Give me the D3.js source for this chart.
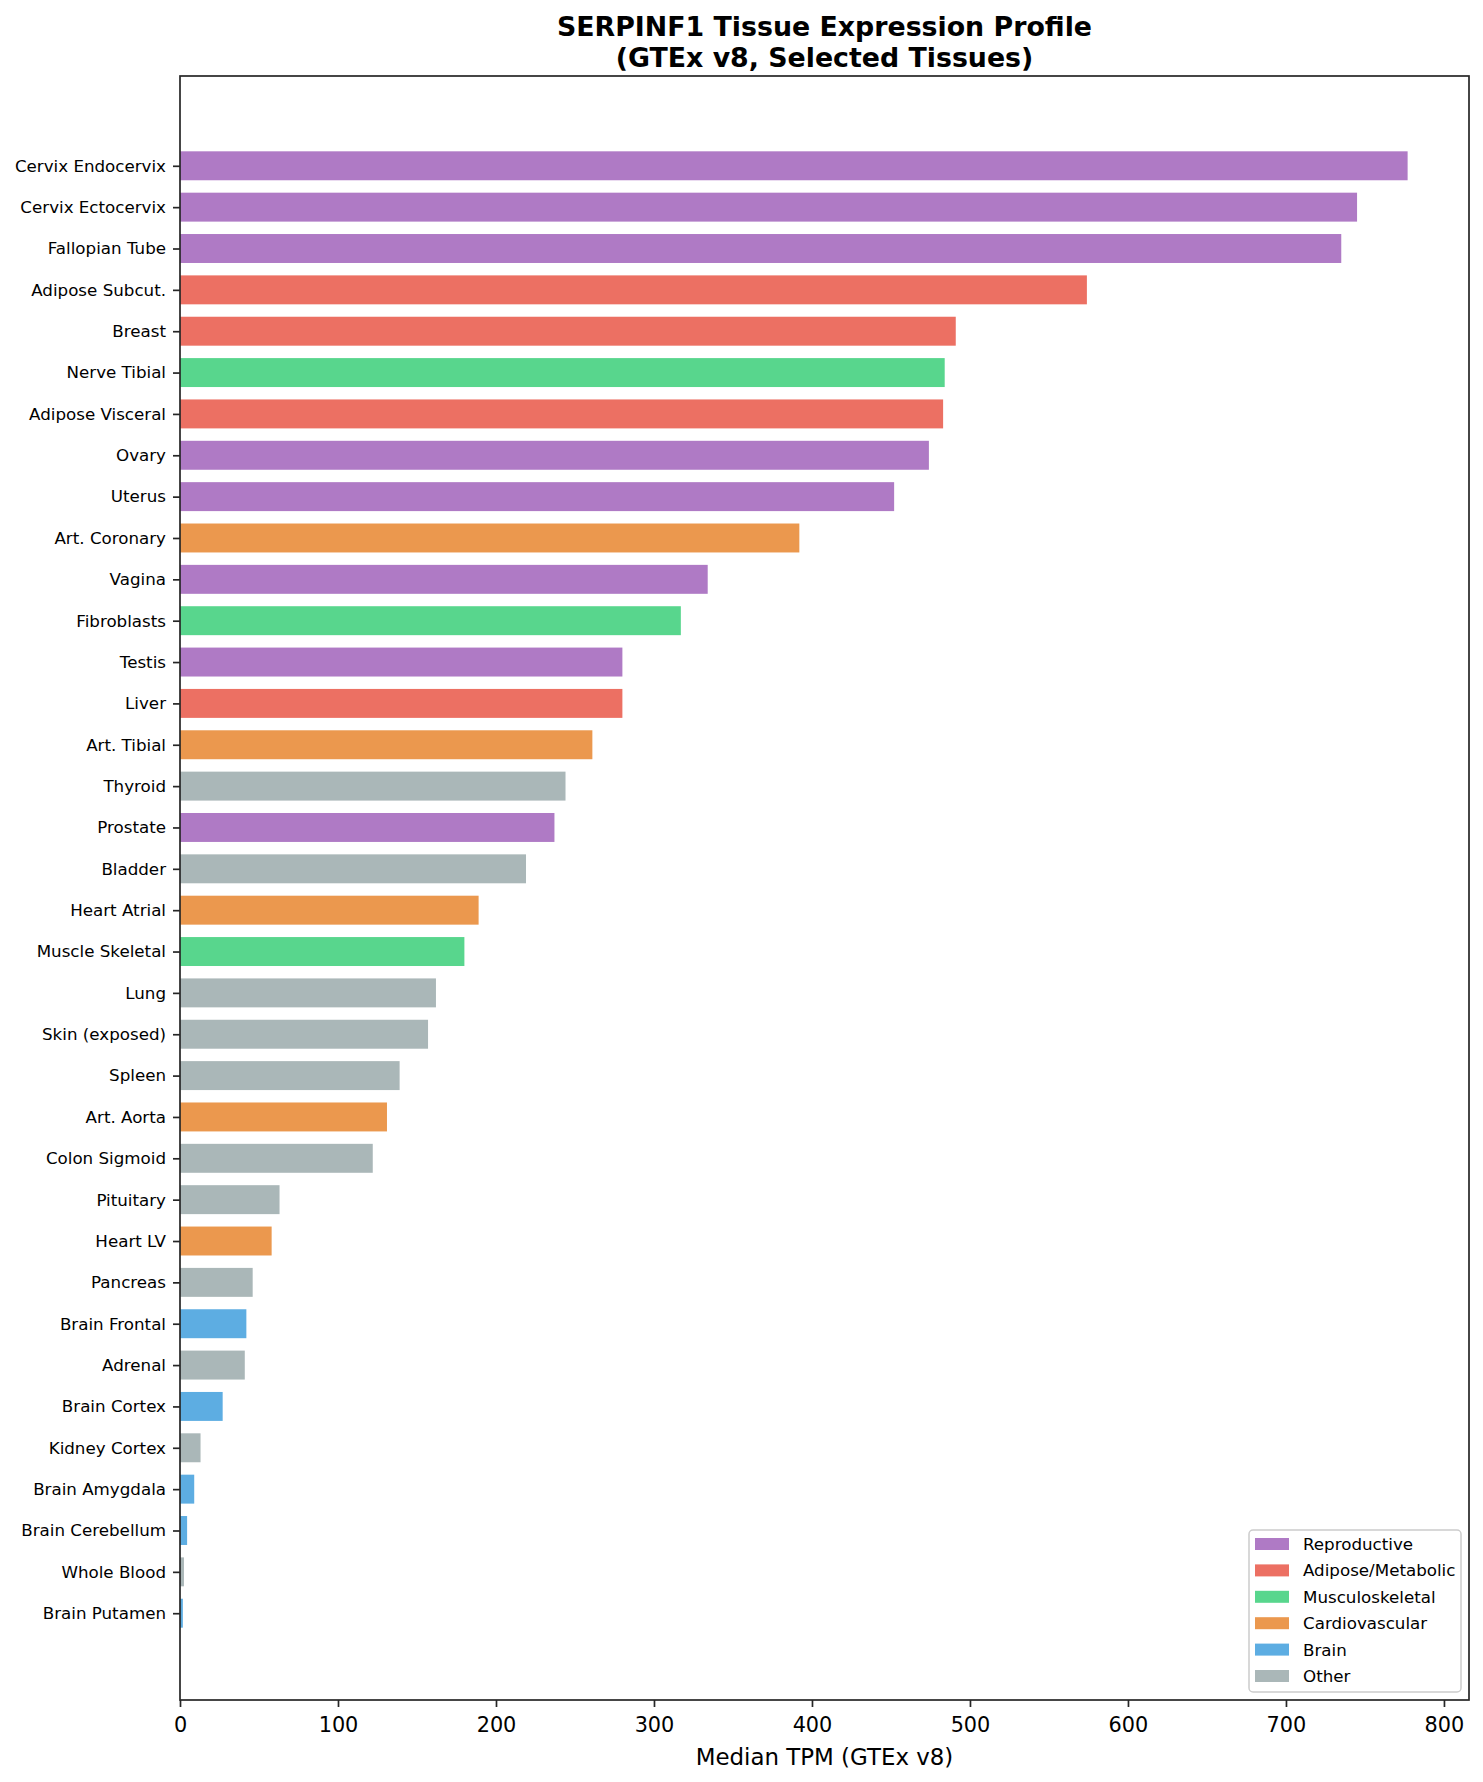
<!DOCTYPE html>
<html>
<head>
<meta charset="utf-8">
<script src="https://cdn.jsdelivr.net/npm/d3@7"></script>
<style>
  body { margin: 0; background: #fff; }
  text { font-family: "DejaVu Sans", sans-serif; fill: #000; }
</style>
</head>
<body>
<script>
// chart data, top bar first
var tissues = ["Cervix Endocervix", "Cervix Ectocervix", "Fallopian Tube", "Adipose Subcut.", "Breast",
  "Nerve Tibial", "Adipose Visceral", "Ovary", "Uterus", "Art. Coronary", "Vagina", "Fibroblasts",
  "Testis", "Liver", "Art. Tibial", "Thyroid", "Prostate", "Bladder", "Heart Atrial", "Muscle Skeletal",
  "Lung", "Skin (exposed)", "Spleen", "Art. Aorta", "Colon Sigmoid", "Pituitary", "Heart LV", "Pancreas",
  "Brain Frontal", "Adrenal", "Brain Cortex", "Kidney Cortex", "Brain Amygdala", "Brain Cerebellum",
  "Whole Blood", "Brain Putamen"];
var tpm = [777, 745, 735, 574, 491, 484, 483, 474, 452, 392, 334, 317,
  280, 280, 261, 244, 237, 219, 189, 180,
  162, 157, 139, 131, 122, 63, 58, 46,
  42, 41, 27, 13, 9, 4.5,
  2.5, 1.8];
var groups = ["Reproductive", "Reproductive", "Reproductive", "Adipose/Metabolic", "Adipose/Metabolic",
  "Musculoskeletal", "Adipose/Metabolic", "Reproductive", "Reproductive", "Cardiovascular", "Reproductive", "Musculoskeletal",
  "Reproductive", "Adipose/Metabolic", "Cardiovascular", "Other", "Reproductive", "Other", "Cardiovascular", "Musculoskeletal",
  "Other", "Other", "Other", "Cardiovascular", "Other", "Other", "Cardiovascular", "Other",
  "Brain", "Other", "Brain", "Other", "Brain", "Brain",
  "Other", "Brain"];
var categories = ["Reproductive", "Adipose/Metabolic", "Musculoskeletal", "Cardiovascular", "Brain", "Other"];
var catColors = ["#af7ac5", "#ec7063", "#58d68d", "#eb984e", "#5dade2", "#aab7b8"];
var xTicks = [0, 100, 200, 300, 400, 500, 600, 700, 800];

var W = 1483, H = 1782;
var plotL = 180, plotR = 1469, plotT = 76, plotB = 1700;
var barH = 0.7;

var color = d3.scaleOrdinal().domain(categories).range(catColors);

var svg = d3.select("body").append("svg")
    .attr("width", W)
    .attr("height", H);

var maxV = d3.max(tpm);
var x = d3.scaleLinear().domain([0, maxV * 1.05]).range([plotL, plotR]);
// bars sit at integer positions, matplotlib style margins
var span = (tissues.length - 1) + barH;
var pad = span * 0.05;
var y = d3.scaleLinear()
    .domain([-barH / 2 - pad, tissues.length - 1 + barH / 2 + pad])
    .range([plotT + 1.5, plotB + 1.5]);

var data = tissues.map(function(t, i){
    return {name: t, v: tpm[i], g: groups[i], i: i};
});

svg.append("g").selectAll("rect")
    .data(data)
    .enter().append("rect")
    .attr("x", x(0))
    .attr("y", function(d){ return y(d.i - barH / 2); })
    .attr("width", function(d){ return x(d.v) - x(0); })
    .attr("height", function(d){ return y(d.i + barH / 2) - y(d.i - barH / 2); })
    .style("fill", function(d){ return color(d.g); });

// x axis
var xAxis = svg.append("g")
    .attr("transform", "translate(0," + plotB + ")")
    .call(d3.axisBottom(x).tickValues(xTicks).tickSize(7).tickPadding(10).tickFormat(d3.format("d")));
xAxis.select(".domain").remove();
xAxis.selectAll("line").attr("stroke", "#262626").attr("stroke-width", 1.7);
xAxis.selectAll("text").style("font-size", "20.8px").style("font-family", "DejaVu Sans");

// y axis
var yAxis = svg.append("g")
    .attr("transform", "translate(" + plotL + ",0)")
    .call(d3.axisLeft(y).tickValues(d3.range(tissues.length)).tickSize(7).tickPadding(7)
        .tickFormat(function(i){ return tissues[i]; }));
yAxis.select(".domain").remove();
yAxis.selectAll("line").attr("stroke", "#262626").attr("stroke-width", 1.7);
yAxis.selectAll("text").style("font-size", "16.7px").style("font-family", "DejaVu Sans");

// frame
svg.append("rect")
    .attr("x", plotL).attr("y", plotT)
    .attr("width", plotR - plotL).attr("height", plotB - plotT)
    .style("fill", "none")
    .style("stroke", "#262626")
    .style("stroke-width", 1.7);

// title
var cx = (plotL + plotR) / 2;
svg.append("text").attr("x", cx).attr("y", 36)
    .attr("text-anchor", "middle")
    .style("font-size", "26.8px").style("font-weight", "bold")
    .text("SERPINF1 Tissue Expression Profile");
svg.append("text").attr("x", cx).attr("y", 67)
    .attr("text-anchor", "middle")
    .style("font-size", "26.8px").style("font-weight", "bold")
    .text("(GTEx v8, Selected Tissues)");

// x label
svg.append("text").attr("x", cx).attr("y", 1765)
    .attr("text-anchor", "middle")
    .style("font-size", "22.9px")
    .text("Median TPM (GTEx v8)");

// legend
var lg = svg.append("g").attr("transform", "translate(1249,1530)");
lg.append("rect")
    .attr("width", 212).attr("height", 162)
    .attr("rx", 4)
    .style("fill", "rgba(255,255,255,0.8)")
    .style("stroke", "#cccccc")
    .style("stroke-width", 1.5);
var rows = lg.selectAll("g.item")
    .data(categories)
    .enter().append("g")
    .attr("class", "item")
    .attr("transform", function(d, i){ return "translate(0," + (14 + i * 26.4) + ")"; });
rows.append("rect")
    .attr("x", 6).attr("y", -6)
    .attr("width", 34).attr("height", 12)
    .style("fill", function(d){ return color(d); });
rows.append("text")
    .attr("x", 54).attr("y", 6)
    .style("font-size", "16.7px")
    .text(function(d){ return d; });
</script>
</body>
</html>
